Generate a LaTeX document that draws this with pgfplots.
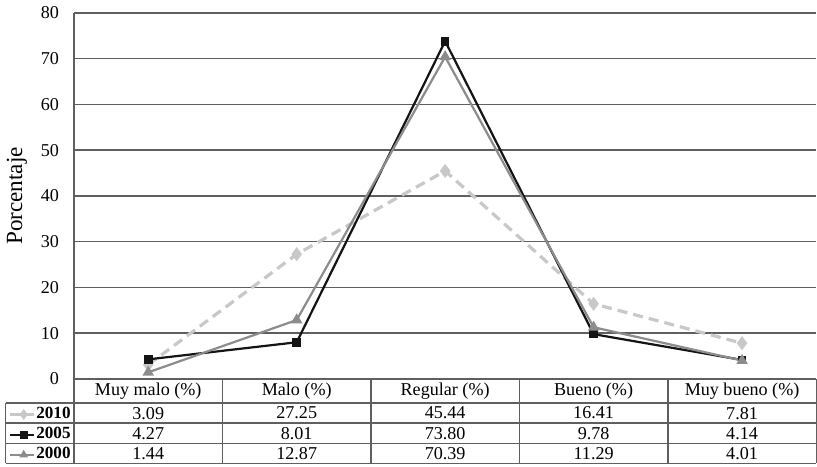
\documentclass[border=0pt]{standalone}
\usepackage{pgfplots}
\pgfplotsset{compat=1.18}
\usepackage{fontspec}
\setmainfont{Liberation Serif}
\definecolor{c2010}{RGB}{200,200,200}
\definecolor{c2005}{RGB}{20,20,20}
\definecolor{c2000}{RGB}{140,140,140}
\definecolor{gridc}{RGB}{95,95,95}
\begin{document}
\begin{tikzpicture}[font=\fontsize{9}{10}\selectfont]
\begin{axis}[
    at={(0,0)}, anchor=south west,
    scale only axis,
    width=369pt, height=182pt,
    xmin=-0.5, xmax=4.5,
    ymin=0, ymax=80,
    ytick={0,10,...,80},
    xtick=\empty,
    ymajorgrids,
    major grid style={gridc, line width=0.7pt},
    axis x line=none,
    axis y line*=left,
    y axis line style={gridc, line width=0.8pt, -},
    ytick style={draw=none},
    yticklabel style={/pgf/number format/assume math mode=true, xshift=-4pt},
    ylabel={Porcentaje},
    ylabel style={font=\fontsize{11.5}{12}\selectfont, yshift=0pt},
    clip=false,
    legend style={at={(0,0)}, anchor=north west, xshift=-33pt, yshift=-12.5pt,
      draw=none, fill=none, inner sep=0pt, row sep=0pt,
      nodes={inner sep=0.5pt, minimum height=10pt, font=\fontsize{8.5}{10}\selectfont\bfseries}},
    legend cell align=left,
    legend image code/.code={
      \draw[#1, solid, line width=1.1pt] (0pt,0pt) -- (12pt,0pt);
      \draw[#1, solid, mark repeat=2, mark phase=2, mark size=1.4pt] plot coordinates {(0pt,0pt) (7pt,0pt) (12pt,0pt)};
    },
]
\addplot[c2010, line width=1.6pt, dash pattern=on 5pt off 3pt, mark=diamond*, mark size=2.2pt, mark options={solid}]
  coordinates {(0,3.09) (1,27.25) (2,45.44) (3,16.41) (4,7.81)};
\addlegendentry{2010}
\addplot[c2005, line width=1.1pt, mark=square*, mark size=1.6pt]
  coordinates {(0,4.27) (1,8.01) (2,73.80) (3,9.78) (4,4.14)};
\addlegendentry{2005}
\addplot[c2000, line width=1.1pt, mark=triangle*, mark size=2.2pt]
  coordinates {(0,1.44) (1,12.87) (2,70.39) (3,11.29) (4,4.01)};
\addlegendentry{2000}
\end{axis}
% data table below the axis
\begin{scope}[draw=gridc, line width=0.7pt]
  \draw (0,0) -- (369pt,0);
  \draw (-34pt,-12pt) -- (369pt,-12pt);
  \draw (-34pt,-22pt) -- (369pt,-22pt);
  \draw (-34pt,-32pt) -- (369pt,-32pt);
  \draw (-34pt,-42pt) -- (369pt,-42pt);
  \draw (-34pt,-12pt) -- (-34pt,-42pt);
  \foreach \x in {0,73.8,147.6,221.4,295.2,369} \draw (\x pt,0) -- (\x pt,-42pt);
\end{scope}
\foreach \name [count=\i from 0] in {Muy malo (\%),Malo (\%),Regular (\%),Bueno (\%),Muy bueno (\%)}
  \node at (36.9pt+73.8pt*\i,-6pt) {\name};
\foreach \v [count=\i from 0] in {3.09,27.25,45.44,16.41,7.81}
  \node at (36.9pt+73.8pt*\i,-17pt) {\v};
\foreach \v [count=\i from 0] in {4.27,8.01,73.80,9.78,4.14}
  \node at (36.9pt+73.8pt*\i,-27pt) {\v};
\foreach \v [count=\i from 0] in {1.44,12.87,70.39,11.29,4.01}
  \node at (36.9pt+73.8pt*\i,-37pt) {\v};
\end{tikzpicture}
\end{document}
